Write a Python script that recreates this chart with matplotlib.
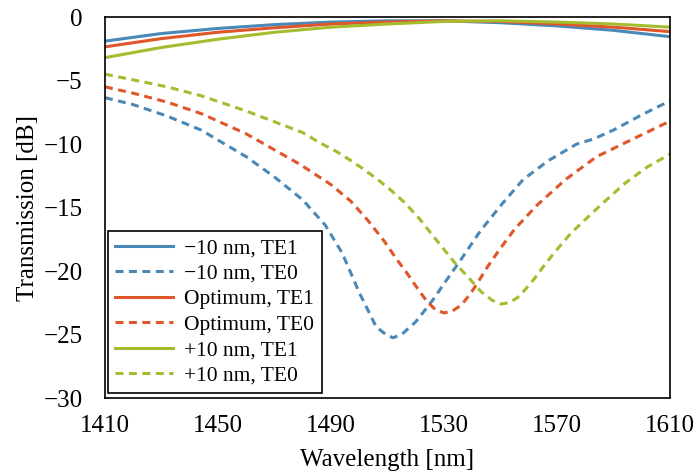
import matplotlib
matplotlib.use('Agg')
import matplotlib.pyplot as plt

plt.rcParams['font.family'] = ['Liberation Serif', 'DejaVu Serif']

# wavelengths [nm] and transmission [dB]
wl_te1 = [1410, 1430, 1450, 1470, 1490, 1510, 1530, 1550, 1570, 1590, 1610]
minus_te1 = [-1.9, -1.3, -0.9, -0.6, -0.4, -0.3, -0.3, -0.45, -0.7, -1.05, -1.55]
opt_te1 = [-2.35, -1.7, -1.2, -0.85, -0.55, -0.4, -0.3, -0.35, -0.55, -0.8, -1.15]
plus_te1 = [-3.2, -2.4, -1.75, -1.2, -0.8, -0.55, -0.35, -0.3, -0.4, -0.55, -0.8]

wl_minus_te0 = [1410, 1420, 1432, 1444, 1460, 1470, 1480, 1488, 1494, 1500, 1506,
                1510, 1512, 1515, 1520, 1526, 1530, 1536, 1543, 1551, 1558, 1567,
                1577, 1583, 1590, 1600, 1610]
minus_te0 = [-6.35, -6.9, -7.8, -8.9, -11.0, -12.6, -14.4, -16.4, -18.6, -21.7, -24.4,
             -25.1, -25.25, -25.0, -24.0, -22.3, -21.0, -19.1, -16.8, -14.6, -12.8, -11.3,
             -10.0, -9.6, -8.9, -7.7, -6.6]

wl_opt_te0 = [1410, 1420, 1432, 1444, 1460, 1479, 1490, 1497, 1503, 1509, 1513,
              1517, 1521, 1524, 1527, 1530, 1533, 1536, 1539, 1542, 1545, 1550,
              1555, 1563, 1573, 1584, 1596, 1610]
opt_te0 = [-5.5, -6.0, -6.7, -7.6, -9.2, -11.6, -13.2, -14.5, -16.0, -17.7, -19.0,
           -20.2, -21.5, -22.4, -23.05, -23.3, -23.15, -22.7, -21.9, -20.9, -19.8, -18.2,
           -16.7, -14.8, -12.8, -11.0, -9.7, -8.2]

wl_plus_te0 = [1410, 1420, 1432, 1444, 1460, 1480, 1486, 1492, 1497, 1501, 1506,
               1511, 1516, 1521, 1526, 1534, 1539, 1543, 1547, 1550, 1553, 1556,
               1559, 1562, 1566, 1570, 1575, 1585, 1594, 1602, 1610]
plus_te0 = [-4.5, -4.95, -5.5, -6.2, -7.4, -9.1, -9.9, -10.6, -11.3, -11.9, -12.7,
            -13.6, -14.6, -15.8, -17.2, -19.4, -20.6, -21.6, -22.3, -22.6, -22.5, -22.1,
            -21.4, -20.6, -19.4, -18.3, -17.0, -14.9, -13.1, -11.8, -10.8]

blue = '#4a88b8'
red = '#e0562b'
green = '#a4bd2f'

fig = plt.figure(figsize=(6.97, 4.75), dpi=100)
ax = fig.add_axes([0.1506, 0.1621, 0.8107, 0.8021])

lw = 2.2
dash = (2.6, 1.8)
ax.plot(wl_te1, minus_te1, color=blue, lw=lw, label='\u221210 nm, TE1')
ax.plot(wl_minus_te0, minus_te0, color=blue, lw=lw, ls=(0, dash), label='\u221210 nm, TE0')
ax.plot(wl_te1, opt_te1, color=red, lw=lw, label='Optimum, TE1')
ax.plot(wl_opt_te0, opt_te0, color=red, lw=lw, ls=(0, dash), label='Optimum, TE0')
ax.plot(wl_te1, plus_te1, color=green, lw=lw, label='+10 nm, TE1')
ax.plot(wl_plus_te0, plus_te0, color=green, lw=lw, ls=(0, dash), label='+10 nm, TE0')

ax.set_xlim(1410, 1610)
ax.set_ylim(-30, 0)
ax.set_xticks([1410, 1450, 1490, 1530, 1570, 1610])
ax.set_yticks([0, -5, -10, -15, -20, -25, -30])
ax.set_yticklabels(['0', '\u22125', '\u221210', '\u221215', '\u221220', '\u221225', '\u221230'])
ax.tick_params(axis='both', length=0, labelsize=18)
ax.tick_params(axis='x', pad=12)
ax.tick_params(axis='y', pad=16)
for s in ax.spines.values():
    s.set_linewidth(1.2)
    s.set_color('black')

ax.set_xlabel('Wavelength [nm]', fontsize=18, labelpad=9)
ax.set_ylabel('Transmission [dB]', fontsize=18, labelpad=3)

leg = ax.legend(loc='lower left', bbox_to_anchor=(0.005, 0.013), borderaxespad=0,
                fontsize=15.5, handlelength=2.7, handletextpad=0.5, labelspacing=0.25,
                borderpad=0.35, fancybox=False, framealpha=1, edgecolor='black')
leg.get_frame().set_linewidth(1.2)

plt.savefig('out.png', dpi=100)
